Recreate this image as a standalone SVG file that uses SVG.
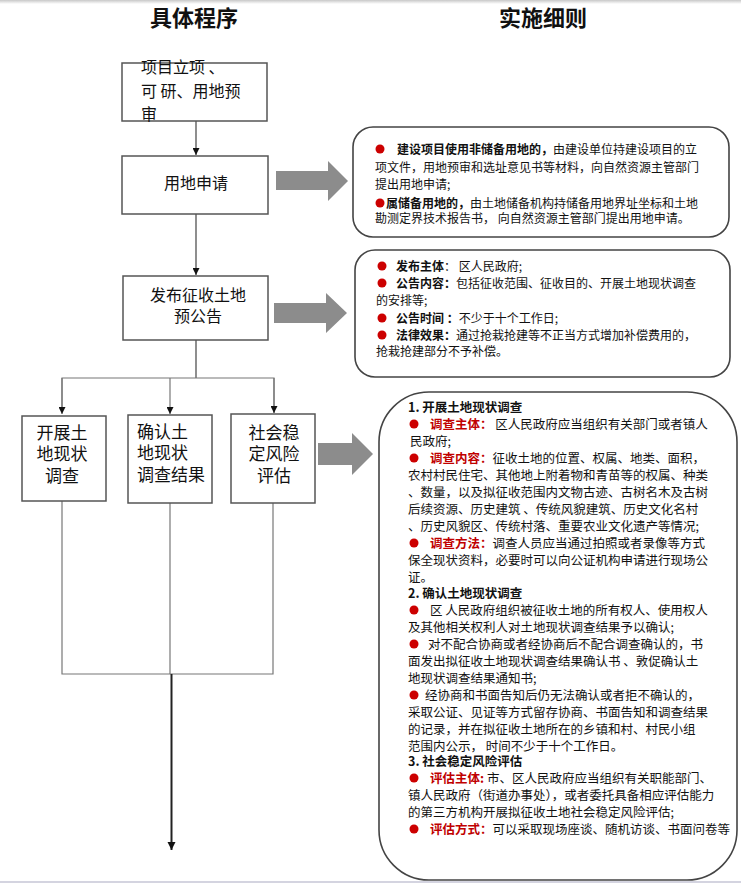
<svg xmlns="http://www.w3.org/2000/svg" width="741" height="884" viewBox="0 0 741 884">
  <defs>
    <marker id="ah" viewBox="0 0 10 10" refX="10" refY="5" markerWidth="7" markerHeight="7" orient="auto" markerUnits="userSpaceOnUse">
      <path d="M0,0 L10,5 L0,10 z" fill="#111"/>
    </marker>
    <marker id="ahBig" viewBox="0 0 10 10" refX="10" refY="5" markerWidth="8" markerHeight="9" orient="auto" markerUnits="userSpaceOnUse">
      <path d="M0,0 L10,5 L0,10 z" fill="#111"/>
    </marker>
    <linearGradient id="topshade" x1="0" y1="0" x2="0" y2="1">
      <stop offset="0" stop-color="#c8c8c8"/>
      <stop offset="1" stop-color="#ffffff"/>
    </linearGradient>
  </defs>
  <style>
    text { font-family: "Noto Sans CJK SC", "Noto Sans", sans-serif; fill: #111; }
    .title { font-size: 22px; font-weight: bold; text-anchor: middle; }
    .box { fill: #fff; stroke: #555; stroke-width: 1.5; }
    .nt { font-size: 16px; }
    .nt2 { font-size: 17px; }
    .mid { text-anchor: middle; }
    .panel { fill: #fff; stroke: #444; stroke-width: 1.6; }
    .dt { font-size: 12px; }
    .dt3 { font-size: 12.5px; }
    .b { font-weight: bold; }
    .red { fill: #c00000; font-weight: bold; }
    .dot { fill: #cc0000; }
    .line { fill: none; stroke: #777; stroke-width: 1.2; }
    .dline { fill: none; stroke: #444; stroke-width: 1.2; }
    .big { fill: #8c8c8c; }
  </style>

  <rect x="0" y="0" width="741" height="4" fill="url(#topshade)"/>
  <line x1="0" y1="882" x2="741" y2="882" stroke="#d4d4e0" stroke-width="2"/>

  <text class="title" x="194" y="26">具体程序</text>
  <text class="title" x="543" y="26">实施细则</text>

  <g id="connectors">
    <line class="dline" x1="196" y1="121" x2="196" y2="155" marker-end="url(#ah)"/>
    <line class="dline" x1="196" y1="214" x2="196" y2="275" marker-end="url(#ah)"/>
    <polyline class="dline" points="196,340 196,378"/>
    <polyline class="line" points="62,412 62,378 274,378 274,413"/>
    <line class="line" x1="62" y1="378" x2="62" y2="414" marker-end="url(#ah)"/>
    <line class="line" x1="170" y1="378" x2="170" y2="414" marker-end="url(#ah)"/>
    <line class="line" x1="274" y1="378" x2="274" y2="413" marker-end="url(#ah)"/>
    <polyline class="line" points="62,501 62,674 273,674 273,503"/>
    <line class="line" x1="170" y1="503" x2="170" y2="674"/>
    <line x1="171.5" y1="674" x2="171.5" y2="850" stroke="#222" stroke-width="2" marker-end="url(#ahBig)"/>
    <polygon class="big" points="276,171 328,171 328,161 348,181 328,201 328,190 276,190"/>
    <polygon class="big" points="274,303 326,303 326,293 347,313 326,333 326,323 274,323"/>
    <polygon class="big" points="318,443 352,443 352,433 373,454 352,475 352,465 318,465"/>
  </g>

  <g id="n-lixiang">
    <rect class="box" x="122" y="63" width="145" height="58"/>
    <text class="nt" x="141" y="73">项目立项 、</text>
    <text class="nt" x="141" y="97">可 研、用地预</text>
    <text class="nt" x="141" y="120">审</text>
  </g>

  <g id="n-yongdi">
    <rect class="box" x="122" y="156" width="146" height="58"/>
    <text class="nt mid" x="196" y="189">用地申请</text>
  </g>

  <g id="n-gonggao">
    <rect class="box" x="123" y="276" width="145" height="64"/>
    <text class="nt mid" x="198" y="301">发布征收土地</text>
    <text class="nt mid" x="198" y="322">预公告</text>
  </g>

  <g id="n-diaocha">
    <rect class="box" x="22" y="416" width="84" height="85" stroke-width="2"/>
    <text class="nt2 mid" x="62" y="439">开展土</text>
    <text class="nt2 mid" x="62" y="460">地现状</text>
    <text class="nt2 mid" x="62" y="482">调查</text>
  </g>

  <g id="n-queren">
    <rect class="box" x="128" y="415" width="84" height="88"/>
    <text class="nt2" x="137" y="438">确认土</text>
    <text class="nt2" x="137" y="459">地现状</text>
    <text class="nt2" x="137" y="481">调查结果</text>
  </g>

  <g id="n-pinggu">
    <rect class="box" x="231" y="414" width="84" height="89"/>
    <text class="nt2 mid" x="274" y="439">社会稳</text>
    <text class="nt2 mid" x="274" y="460">定风险</text>
    <text class="nt2 mid" x="274" y="482">评估</text>
  </g>

  <g id="d-yongdi">
    <rect class="panel" x="353" y="127" width="376" height="110" rx="20"/>
    <circle class="dot" cx="380" cy="149" r="4.5"/>
    <text class="dt" x="397" y="154"><tspan class="b">建设项目使用非储备用地的，</tspan>由建设单位持建设项目的立</text>
    <text class="dt" x="375" y="172">项文件，用地预审和选址意见书等材料，向自然资源主管部门</text>
    <text class="dt" x="375" y="189">提出用地申请;</text>
    <circle class="dot" cx="380" cy="203" r="4.5"/>
    <text class="dt" x="386" y="208"><tspan class="b">属储备用地的，</tspan>由土地储备机构持储备用地界址坐标和土地</text>
    <text class="dt" x="375" y="223">勘测定界技术报告书， 向自然资源主管部门提出用地申请。</text>
  </g>

  <g id="d-gonggao">
    <rect class="panel" x="355" y="250" width="375" height="127" rx="20"/>
    <circle class="dot" cx="382" cy="266" r="4.5"/>
    <text class="dt" x="396" y="271"><tspan class="b">发布主体</tspan>： 区人民政府;</text>
    <circle class="dot" cx="382" cy="283" r="4.5"/>
    <text class="dt" x="396" y="288"><tspan class="b">公告内容：</tspan>包括征收范围、征收目的、开展土地现状调查</text>
    <text class="dt" x="376" y="305">的安排等;</text>
    <circle class="dot" cx="382" cy="318" r="4.5"/>
    <text class="dt" x="396" y="323"><tspan class="b">公告时间 ：</tspan>不少于十个工作日;</text>
    <circle class="dot" cx="382" cy="335" r="4.5"/>
    <text class="dt" x="396" y="340"><tspan class="b">法律效果：</tspan>通过抢栽抢建等不正当方式增加补偿费用的，</text>
    <text class="dt" x="376" y="356">抢栽抢建部分不予补偿。</text>
  </g>

  <g id="d-xianzhuang">
    <rect class="panel" x="379" y="392" width="358" height="488" rx="50"/>
    <text class="dt3 b" x="408" y="412">1. 开展土地现状调查</text>
    <circle class="dot" cx="414" cy="424" r="4.5"/>
    <text class="dt3" x="430" y="429"><tspan class="red">调查主体：</tspan> 区人民政府应当组织有关部门或者镇人</text>
    <text class="dt3" x="410" y="446">民政府;</text>
    <circle class="dot" cx="414" cy="458" r="4.5"/>
    <text class="dt3" x="430" y="463"><tspan class="red">调查内容：</tspan>征收土地的位置、权属、地类、面积，</text>
    <text class="dt3" x="408" y="480">农村村民住宅、其他地上附着物和青苗等的权属、种类</text>
    <text class="dt3" x="408" y="497">、数量，以及拟征收范围内文物古迹、古树名木及古树</text>
    <text class="dt3" x="408" y="514">后续资源、历史建筑 、传统风貌建筑、历史文化名村</text>
    <text class="dt3" x="408" y="531">、历史风貌区、传统村落、重要农业文化遗产等情况;</text>
    <circle class="dot" cx="414" cy="543" r="4.5"/>
    <text class="dt3" x="430" y="548"><tspan class="red">调查方法：</tspan>调查人员应当通过拍照或者录像等方式</text>
    <text class="dt3" x="408" y="565">保全现状资料，必要时可以向公证机构申请进行现场公</text>
    <text class="dt3" x="408" y="582">证。</text>
    <text class="dt3 b" x="408" y="598">2. 确认土地现状调查</text>
    <circle class="dot" cx="414" cy="610" r="4.5"/>
    <text class="dt3" x="430" y="615">区 人民政府组织被征收土地的所有权人、使用权人</text>
    <text class="dt3" x="408" y="632">及其他相关权利人对土地现状调查结果予以确认;</text>
    <circle class="dot" cx="414" cy="644" r="4.5"/>
    <text class="dt3" x="428" y="649">对不配合协商或者经协商后不配合调查确认的，书</text>
    <text class="dt3" x="408" y="666">面发出拟征收土地现状调查结果确认书 、敦促确认土</text>
    <text class="dt3" x="408" y="683">地现状调查结果通知书;</text>
    <circle class="dot" cx="414" cy="695" r="4.5"/>
    <text class="dt3" x="425" y="700">经协商和书面告知后仍无法确认或者拒不确认的，</text>
    <text class="dt3" x="408" y="717">采取公证、见证等方式留存协商、书面告知和调查结果</text>
    <text class="dt3" x="408" y="734">的记录，并在拟征收土地所在的乡镇和村、村民小组</text>
    <text class="dt3" x="408" y="751">范围内公示， 时间不少于十个工作日。</text>
    <text class="dt3 b" x="408" y="766">3. 社会稳定风险评估</text>
    <circle class="dot" cx="414" cy="778" r="4.5"/>
    <text class="dt3" x="430" y="783"><tspan class="red">评估主体:</tspan> 市、区人民政府应当组织有关职能部门、</text>
    <text class="dt3" x="408" y="800">镇人民政府（街道办事处），或者委托具备相应评估能力</text>
    <text class="dt3" x="408" y="817">的第三方机构开展拟征收土地社会稳定风险评估;</text>
    <circle class="dot" cx="414" cy="829" r="4.5"/>
    <text class="dt3" x="430" y="834"><tspan class="red">评估方式：</tspan>可以采取现场座谈、随机访谈、书面问卷等</text>
  </g>
</svg>
